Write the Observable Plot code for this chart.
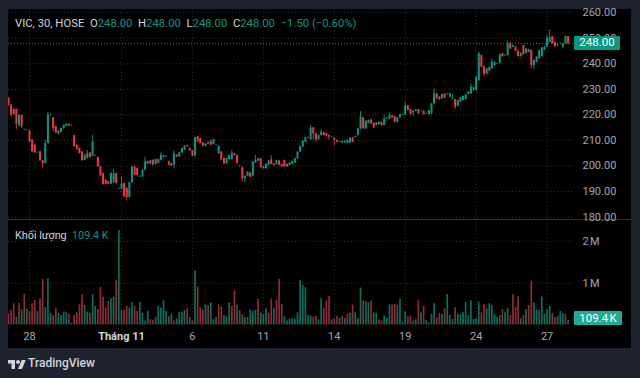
<!DOCTYPE html>
<html>
<head>
<meta charset="utf-8">
<script src="https://cdn.jsdelivr.net/npm/d3@7"></script>
<script src="https://cdn.jsdelivr.net/npm/@observablehq/plot@0.6"></script>
<style>
html,body{margin:0;padding:0;width:640px;height:378px;overflow:hidden;background:#1e222d;font-family:Roboto,sans-serif}
#panel{position:absolute;left:8px;top:9px;width:623px;height:339px;background:#000}
#sep{position:absolute;left:8px;top:219px;width:623px;height:1px;background:#2a2e39}
#chart svg{position:absolute;left:0;overflow:visible;background:transparent}
.lg{position:absolute;font-size:11.3px;color:#d1d4dc;white-space:pre;line-height:14px}
.lg b{font-weight:400;color:#089981}
.tag{position:absolute;color:#fff;font-size:11.5px;text-align:center;border-radius:1px}
#brand{position:absolute;left:28px;top:355px;font-size:12px;font-weight:500;color:#d1d4dc;line-height:16px}
#logo{position:absolute;left:8px;top:358px}
</style>
</head>
<body>
<div id="panel"></div>
<div id="sep"></div>
<div id="chart"></div>
<div class="lg" id="ohlc" style="left:15px;top:17px">VIC, 30, HOSE  O<b>248.00</b>  H<b>248.00</b>  L<b>248.00</b>  C<b>248.00</b>  <b>−1.50 (−0.60%)</b></div>
<div class="lg" style="left:15px;top:229px;font-size:10.8px">Khối lượng  <b>109.4 K</b></div>
<svg id="logo" width="18" height="11" viewBox="0 0 36 22" fill="#d1d4dc"><path d="M14 22H7V11H0V4h14v18zM28 22h-8l7.5-18h8L28 22z"/><circle cx="20" cy="8" r="4"/></svg>
<div id="brand">TradingView</div>
<script>
const opens = [
226.4,223.8,222.1,222,215.9,219.8,214.1,213.9,213.7,210.1,
208.1,205.1,205.5,202,200.9,208.8,219.7,218.9,215.5,212.4,
213.2,214.6,215.5,216.3,215.7,211.8,208.1,206.8,205.5,202.2,
202.9,205.1,203.8,203.9,203.3,199.6,197,194.4,193.8,192.9,
193.4,197,191,190.9,193.1,191.2,187.6,193.4,199.6,199,
195.7,195.7,198.3,200.7,202,200.3,202.5,201,202.2,203.3,203.6,
201.6,200.9,200.3,204.2,203.5,205.1,206.2,207.9,206.8,205.9,
203.9,211.4,210.7,209,207.7,208.6,209.4,208.4,207.9,204.7,
205.4,202.8,200.8,202.5,202.5,204.7,204.1,199.7,199.3,195,
195.9,197.2,195.9,201.1,201.9,202.8,198.9,198.9,200.2,202.4,
200.8,200.6,201.9,200.6,202.1,199.6,200.2,200.6,201.1,202.8,
205.4,207.4,209.3,210.9,210.2,214.9,212.6,210.2,211.9,213,
212.6,211.9,211.2,210.9,210,209.2,209,209,208.9,209,
211,211.2,211.9,214.5,218.8,214.5,216.7,218,216.7,215.8,
216.2,217,215.8,218.4,218.4,219.6,219.3,217.1,218.8,219.9,
219.9,223.5,222,220.7,221.4,222,221.3,221.4,220.3,220.1,
220.4,224.3,228.2,226.9,226.3,228,227.9,226.9,226.2,225.9,
223.3,225,225.6,225.9,228,228.2,229.5,229.5,233.4,243.2,
238.9,236,237.1,238,239.3,239.8,240.2,243.9,243.1,243.2,
248,246.5,246.5,244.9,242.8,247.1,244.1,244.5,245.2,239.3,
240.6,242,242.8,245.4,246.5,248.4,250.6,248.4,247,
247.7,246.7,247.8,250.6];
const closes = [
223.8,219.8,220.1,216.3,219.8,215.3,214.3,214.1,209.4,205.5,
205.1,205.3,202,200.9,208.8,219.8,219.9,214.6,212.9,213.7,
214.6,215.9,216.3,215.6,215.9,207.5,206.4,204.9,202,204.2,
204.9,203.3,209.4,204.1,199.6,196,192.7,192.7,192.8,197,
197,193.1,191.2,192.9,187.9,187.6,193.4,199.6,196.4,196.4,
195.9,198.3,201.6,201.6,200.7,202.2,200.7,202.5,204.2,203.9,203.8,
200.3,200,204.6,203.5,205.1,206.8,207.7,207.5,205.9,203.9,
211,209.4,208.8,207.7,208.6,209.2,208.1,210.2,208.1,207.6,
202.4,200.8,202.8,204.1,205,204.1,201.1,199.9,195,195.9,
197.6,195.6,201.5,202.1,202.8,199.3,199.7,200.6,201.9,200.6,
200.2,202.1,200.2,199.6,199.6,200.6,201.1,201.7,202.8,205.4,
207.6,209.7,211,211.1,214.9,212.6,210.2,211.9,213.2,211.9,
211.5,211.3,211.4,210,209.3,209.4,209.6,209.6,210,210.9,
209.3,211.5,214.5,219.1,214.5,217.5,217.8,216.5,214.9,216.7,
217,215.8,218.4,218.8,219.7,218.8,217.1,218.8,220,220.1,
223.5,221.7,220.1,221.4,222,220.4,221.5,220.1,220.5,221.7,
224.3,228.2,226.3,225.9,228,226.6,228.1,228.2,226.4,223,
225.6,226.6,227.2,227.8,228.9,230.8,230.6,234.5,243.9,238.6,
236,238,238.6,240.6,240.6,240,243.6,242.8,243.3,247.8,
245.8,247.1,244.9,242.8,244.1,243.6,245.8,245.4,239.3,241.3,
242.6,245.2,246.2,246.5,250.1,250.1,247.8,246.7,247.2,
247.9,247.8,250.6,248];
const highs = [
226.8,224,222.5,222.3,220,220,214.5,214.3,213.9,210.3,
208.3,205.5,205.7,202.2,210.1,220.8,220.2,219,215.7,213.9,
214.8,216,216.5,216.5,216.1,212,208.3,207,205.7,204.4,
206.2,205.3,212,204.3,203.5,199.8,197.2,194.6,194,197.2,
198.6,197.2,191.4,195.7,193.3,191.4,193.6,199.8,199.8,199.2,
196.1,198.5,203.5,201.8,202.2,202.4,202.7,202.7,205.1,204.1,204,
201.8,201.1,205.9,204.4,205.3,207,207.9,208.1,207,206.1,
211.4,211.6,210.9,209.2,208.8,209.4,210.3,210.4,208.3,207.8,
205.6,203,203,204.3,206.3,204.9,204.3,200.1,199.5,196.1,
197.8,197.4,201.7,204.1,203,203,199.9,200.8,202.1,204.1,
201,202.3,202.1,200.8,202.3,200.8,201.3,201.9,203,205.6,
207.8,209.9,211.2,211.3,215.8,215.1,212.8,212.1,213.9,213.2,
212.8,212.1,211.6,211.1,210.2,209.6,209.8,209.8,210.2,211.1,
211.2,211.7,214.7,221.3,219,217.7,218,218.2,216.9,216.9,
217.2,217.2,220,219,220.8,219.8,219.5,219,220.2,220.3,
225.1,223.7,222.2,221.6,222.2,222.2,221.7,221.6,220.7,221.9,
224.5,230.2,228.4,227.1,228.2,228.2,228.3,228.4,228,226.1,
225.8,226.8,227.4,228,229.1,232,230.8,235,244.5,243.4,
239.1,238.2,238.8,241.9,240.8,240.2,243.8,244.1,243.5,248.8,
248.2,247.3,246.7,245.1,244.3,247.3,246,245.6,245.4,241.5,
242.8,245.4,246.4,246.7,251,253.2,250.8,248.6,247.4,
248.1,248,251,250.8];
const lows = [
223.4,219.2,219.8,214.2,215,214.6,213.9,213.7,209.2,205.3,
205,205,201.8,199.2,200.7,208.6,219.5,213.3,212.6,212.2,
213,214.4,215.3,215.4,215.5,207.3,206.2,204.7,201.8,202,
202.7,203.1,203.6,203.7,199.4,195.8,192.5,192.5,192.6,192.7,
193.2,192.9,190.8,190.7,187.7,186.2,187.4,193.2,196.2,195.7,
195.5,195.5,198.1,200.5,200.5,200.1,200.5,200.8,202,203.1,203.4,
200.1,199.8,199,203.3,203.3,204.9,206,207.3,205.7,203.7,
203.7,209.2,208.6,207.5,207.5,208.4,207.9,208.2,207.7,204.5,
202.2,200.6,200.6,202.3,202.3,203.9,200.9,199.5,193.7,193.3,
195.7,195.4,195.7,200.9,201.7,199.1,198.7,198.7,200,200.4,
200,200.4,200,199.4,199.4,199.4,200,200.4,200.9,202.6,
205.2,207.2,209.1,210.7,210,210,209.3,210,211.7,211.7,
211.3,210,211,208,209.1,209,208.8,208.8,208.7,208.8,
209.1,211,211.7,214.3,214.3,214.3,216.5,216.3,214.7,215.6,
216,215.6,215.6,218.2,218.2,218.6,216.9,216.9,218.6,219.7,
219.7,221.5,219.9,219.3,221.2,220.2,221.1,219.9,220.1,219.9,
220.2,224.1,226.1,225.7,226.1,226.4,227.7,226.7,226,222,
223.1,224.8,225.4,225.7,227.8,228,229.3,229.3,233.2,238.4,
235.2,235.8,236.9,237.8,239.1,239.6,240,242.6,242.9,243,
245.6,246.3,244.7,242.6,242.6,243.4,243.9,244.3,238,237.6,
240.4,241.8,242.6,245.2,246.3,248.2,247.6,246.5,246.8,
247.5,245.8,247.6,247.2];
const volumesK = [
264,352,504,184,520,360,728,368,320,504,
584,320,624,1088,408,1104,280,224,400,272,
224,304,288,248,40,224,288,480,720,464,
304,280,720,440,368,896,664,408,560,624,
664,1072,2256,
344,344,448,400,528,448,320,544,280,96,
328,128,112,184,440,400,584,320,192,256,
96,144,304,304,344,384,176,96,1296,912,
416,360,480,456,528,128,
176,480,416,224,192,528,440,816,472,344,
240,176,176,352,328,352,616,280,248,384,
280,616,392,592,1088,496,200,96,136,152,
136,288,1056,944,888,224,216,184,208,120,
624,384,576,680,120,144,208,160,208,152,
248,280,472,288,152,880,576,552,528,576,
288,280,120,96,216,160,480,480,488,472,
608,64,312,192,216,96,120,576,288,440,
104,48,256,504,160,280,256,400,728,224,
128,408,256,248,288,536,224,576,128,144,
544,288,480,384,504,464,240,176,224,368,
288,400,224,720,432,672,144,224,368,464,
1048,528,360,344,664,256,360,440,280,176,
200,320,272,248,109.4];
const volumeDirs = (
"RRRGRGRGRR"+"RGRRGGGRRG"+"GGGRGRRRRG"+"GRGGRRRRRG"+"GRG"+
"GRRGGRRGGG"+"GRRGGGGGRG"+"RGGGGRGRGR"+"RRGRGG"+
"GRRGGGRRGR"+"GGRGGGRGGG"+"RRGRRRGGGG"+"GGGGGGGRRG"+"GRRRGRRGRG"+
"RGRGGGRGGR"+"GGRRGGGRRG"+"GGGRRGGRGR"+
"GGGGRRGRGG"+"GRGGGGGGGG"+"GRRGGGGGGR"+"GGRRRRGRGR"+"RGGGGGGGRR"+"GGGRG").split("");
const priceTicks = [180,190,200,210,220,230,240,250,260];
const volumeTicks = [1000,2000];
const timeTicks = [8,43,70,97,124,151,178,205];
const timeLabels = ["28","Tháng 11","6","11","14","19","24","27"];
const lastPrice = 248;
const lastVolumeK = 109.4;

const UP = "#089981", DOWN = "#f23645";
const GRID = "#2e323c", TEXT = "#a3a6af";
const W = 640, xDomain = [0, opens.length - 1], xRange = [8, 567.6];
const idx = d3.range(opens.length);
const dirColor = i => closes[i] >= opens[i] ? "up" : "down";
const common = {width: W, marginLeft: 8, marginRight: 67, style: {background: "transparent", fontFamily: "Roboto, sans-serif", fontSize: "11px"}};

const pricePlot = Plot.plot({
  ...common, height: 220, marginTop: 9, marginBottom: 0,
  x: {domain: xDomain, range: xRange, axis: null},
  y: {domain: [180, 260], range: [216.5, 12.2], axis: null},
  color: {domain: ["up", "down"], range: [UP, DOWN]},
  marks: [
    Plot.ruleY(priceTicks, {stroke: GRID, strokeDasharray: "1 2.5"}),
    Plot.ruleX(timeTicks, {stroke: GRID, strokeDasharray: "1 2.5"}),
    Plot.ruleY([lastPrice], {stroke: UP, strokeDasharray: "1 2"}),
    Plot.ruleX(idx, {x: i => i, y1: i => lows[i], y2: i => highs[i], stroke: dirColor, strokeWidth: 0.9, clip: true}),
    Plot.ruleX(idx, {x: i => i, y1: i => opens[i], y2: i => closes[i], stroke: dirColor, strokeWidth: 2, clip: true}),
    Plot.axisY({anchor: "right", ticks: priceTicks, tickSize: 0, tickPadding: 9, tickFormat: d3.format(".2f"), fill: TEXT, label: null})
  ]
});
pricePlot.style.top = "0px";

const fmtVol = v => (v / 1000) + "\u202fM";
const volumePlot = Plot.plot({
  ...common, height: 128, marginTop: 0, marginBottom: 23,
  x: {domain: xDomain, range: xRange, axis: null},
  y: {domain: [0, 2000], range: [104.4, 20.8], axis: null},
  color: {domain: ["G", "R"], range: ["#0b6e5e", "#8f2b35"]},
  marks: [
    Plot.ruleY(volumeTicks, {stroke: GRID, strokeDasharray: "1 2.5"}),
    Plot.ruleX(timeTicks, {stroke: GRID, strokeDasharray: "1 2.5"}),
    Plot.ruleX(volumesK, {x: (d, i) => i, y1: 0, y2: d => d, stroke: (d, i) => volumeDirs[i], strokeWidth: 1.7, clip: true}),
    Plot.axisY({anchor: "right", ticks: volumeTicks, tickSize: 0, tickPadding: 9, tickFormat: fmtVol, fill: TEXT, label: null}),
    Plot.axisX({anchor: "bottom", ticks: timeTicks, tickSize: 0, tickPadding: 7, tickFormat: d => timeLabels[timeTicks.indexOf(d)], fill: TEXT, label: null})
  ]
});
volumePlot.style.top = "220px";
d3.select(volumePlot).selectAll("text").filter(function () { return this.textContent === "Tháng 11"; })
  .attr("font-weight", 700).attr("fill", "#d1d4dc");

const chart = document.getElementById("chart");
chart.append(pricePlot, volumePlot);

function tag(text, top, left, width, height, bg) {
  const el = document.createElement("div");
  el.className = "tag"; el.textContent = text;
  Object.assign(el.style, {left: left + "px", top: top + "px", width: width + "px", height: height + "px", lineHeight: height + "px", background: bg});
  document.body.append(el);
}
tag(d3.format(".2f")(lastPrice), pricePlot.scale("y").apply(lastPrice) - 6.8, 574, 46, 13.6, UP);
tag(lastVolumeK + "\u202fK", 220 + volumePlot.scale("y").apply(0) - 13.8, 574, 48, 14, "#22ab94");
</script>
</body>
</html>
